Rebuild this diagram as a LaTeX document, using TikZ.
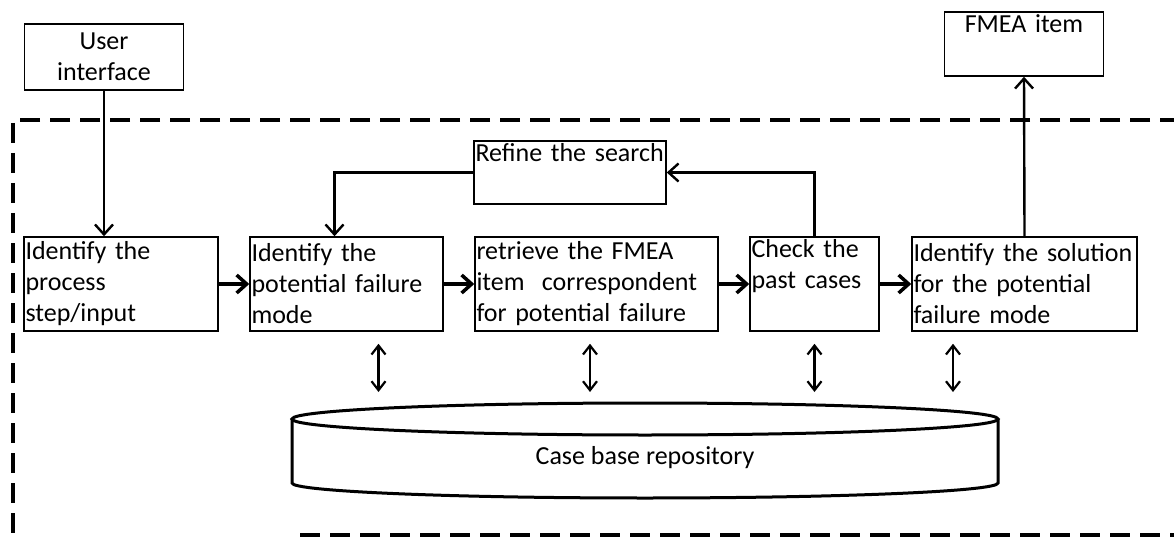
\documentclass[tikz,border=0pt]{standalone}
\usepackage{fontspec}
\setmainfont{Carlito}
\usetikzlibrary{arrows.meta}

\begin{document}
\begin{tikzpicture}[
    x=1pt, y=-1pt,
    txt/.style={font=\fontsize{26}{31}\selectfont},
    stepbox/.style={rectangle, draw, line width=1.5pt, txt, align=left, inner xsep=1.5pt, inner ysep=0pt, minimum height=94pt},
    ionode/.style={rectangle, draw, line width=1.5pt, txt, align=center, inner sep=0pt},
    flowarrow/.style={-{Straight Barb[length=10pt,width=18pt]}, line width=3.5pt},
    linkarrow/.style={-{Straight Barb[length=10pt,width=18pt]}, line width=2.4pt},
    dblarrow/.style={{Straight Barb[length=9pt,width=14pt]}-{Straight Barb[length=9pt,width=14pt]}, line width=2.2pt, shorten <=12pt, shorten >=11pt},
    bound/.style={line width=3.5pt, dash pattern=on 20pt off 10pt}
]
\useasboundingbox (0,0) rectangle (1174,537);
\clip (0,0) rectangle (1174,537);

% Граница системы
\draw[bound] (1180,120) -- (13,120) -- (13,545);
\draw[bound] (300,535) -- (1180,535);

% Вход и выход
\node[ionode, text width=159pt, minimum height=66pt] (ui) at (104,57) {User\\interface};
\node[ionode, text width=159pt, minimum height=64pt] (fmea) at (1024,44) {FMEA item\\\strut};

% Шаги
\node[stepbox, text width=191pt] (box1) at (121,284) {Identify the\\process\\step/input};
\node[stepbox, text width=190pt] (box2) at (346.5,284) {Identify the\\potential failure\\mode};
\node[stepbox, text width=240pt] (box3) at (596.5,284) {retrieve the FMEA\\item~~correspondent\\for potential failure};
\node[stepbox, text width=126pt] (box4) at (814.5,284) {Check the\\past cases\\\strut};
\node[stepbox, text width=222pt] (box5) at (1024.5,284) {Identify the solution\\for the potential\\failure mode};

% Уточнение поиска
\node[stepbox, text width=189pt, minimum height=63pt] (refine) at (570,172.5) {Refine the search\\\strut};

% База случаев
\node[txt] (db) at (645,458) {Case base repository};
\coordinate (dbtop) at (645,403);
\draw[line width=3pt] (645,419) ellipse [x radius=353pt, y radius=16pt];
\draw[line width=3pt] (292,419) -- (292,483)
    arc [start angle=180, end angle=360, x radius=353pt, y radius=15pt] -- (998,419);

% Основной поток
\draw[linkarrow] (ui.south) -- (ui.south |- box1.north);
\draw[flowarrow] (box1) -- (box2);
\draw[flowarrow] (box2) -- (box3);
\draw[flowarrow] (box3) -- (box4);
\draw[flowarrow] (box4) -- (box5);
\draw[linkarrow] (box5.north) -- (fmea.south);

% Обратная связь
\draw[linkarrow] (box4.north) |- (refine.east);
\draw[linkarrow] (refine.west) -| ([xshift=-12pt]box2.north);

% Обмен с базой
\draw[dblarrow] ([xshift=32pt]box2.south) -- ([xshift=32pt]box2.south |- dbtop);
\draw[dblarrow] ([xshift=-6.5pt]box3.south) -- ([xshift=-6.5pt]box3.south |- dbtop);
\draw[dblarrow] (box4.south) -- (box4.south |- dbtop);
\draw[dblarrow] ([xshift=-71.5pt]box5.south) -- ([xshift=-71.5pt]box5.south |- dbtop);
\end{tikzpicture}
\end{document}
